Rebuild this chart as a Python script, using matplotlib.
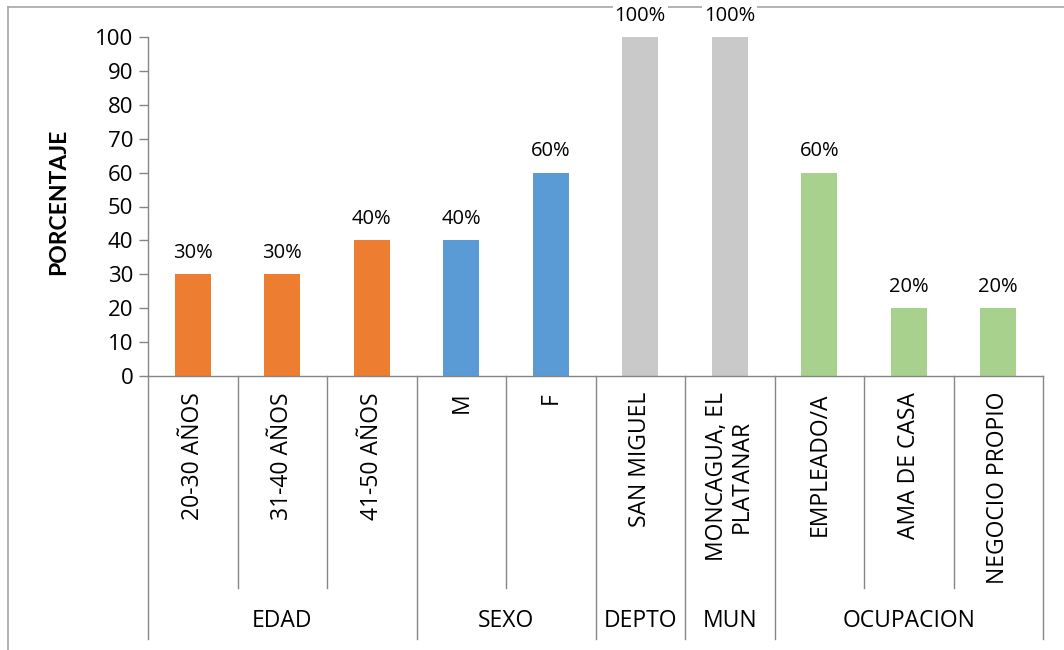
import matplotlib
matplotlib.use("Agg")
import matplotlib.pyplot as plt
from matplotlib.lines import Line2D
import matplotlib.transforms as mtrans

plt.rcParams['font.family'] = ['Open Sans', 'DejaVu Sans']

categories = ["20-30 AÑOS", "31-40 AÑOS", "41-50 AÑOS", "M", "F",
              "SAN MIGUEL", "MONCAGUA, EL\nPLATANAR", "EMPLEADO/A",
              "AMA DE CASA", "NEGOCIO PROPIO"]
values = [30, 30, 40, 40, 60, 100, 100, 60, 20, 20]
groups = ["EDAD", "SEXO", "DEPTO", "MUN", "OCUPACION"]
group_sizes = [3, 2, 1, 1, 3]
group_colors = ["#ED7D31", "#5B9BD5", "#C9C9C9", "#C9C9C9", "#A9D18E"]
yticks = [0, 10, 20, 30, 40, 50, 60, 70, 80, 90, 100]

colors = []
for c, n in zip(group_colors, group_sizes):
    colors += [c] * n

W, H = 1064, 650
fig = plt.figure(figsize=(W / 100, H / 100), dpi=100)
ax = fig.add_axes([148 / W, 1 - 376 / H, (1043 - 148) / W, (376 - 37) / H])

x = list(range(len(categories)))
ax.bar(x, values, width=0.4, color=colors, zorder=2)
ax.set_xlim(-0.5, len(categories) - 0.5)
ax.set_ylim(0, 100)
ax.set_yticks(yticks)
ax.tick_params(axis='y', labelsize=16, length=6.5, width=1, color='#868686', pad=4)
ax.set_xticks([])
for s in ['top', 'right']:
    ax.spines[s].set_visible(False)
for s in ['left', 'bottom']:
    ax.spines[s].set_color('#868686')
    ax.spines[s].set_linewidth(1)

fig.text(59 / W, 1 - 202 / H, "PORCENTAJE", rotation=90, ha='center', va='center',
         fontsize=16.5, fontweight='bold', family=['Lato', 'DejaVu Sans'])

for xi, v in zip(x, values):
    ax.annotate(f"{v}%", (xi, v), xytext=(0, 8), textcoords='offset points',
                ha='center', va='bottom', fontsize=14.5,
                bbox=dict(facecolor='white', edgecolor='none', pad=1.5), zorder=5,
                annotation_clip=False)

trans = mtrans.blended_transform_factory(ax.transData, fig.transFigure)
y_axis = 1 - 376 / H
y_inner = 1 - 588 / H
y_outer = 1 - 639 / H
for xi, lab in zip(x, categories):
    ax.text(xi, 1 - 392 / H, lab, transform=trans, rotation=90, ha='center', va='top',
            fontsize=16.5, multialignment='center', linespacing=1.05)

boundaries = [0]
for n in group_sizes:
    boundaries.append(boundaries[-1] + n)
group_edges = set(boundaries)
for b in range(len(categories) + 1):
    bottom = y_outer if b in group_edges else y_inner
    ax.add_line(Line2D([b - 0.5, b - 0.5], [y_axis, bottom], transform=trans,
                       color='#868686', linewidth=1, clip_on=False))

for i, g in enumerate(groups):
    center = (boundaries[i] + boundaries[i + 1]) / 2 - 0.5
    ax.text(center, 1 - 621 / H, g, transform=trans, ha='center', va='center',
            fontsize=16.5)

fig.add_artist(Line2D([8 / W, 8 / W], [1 - 7 / H, 0], transform=fig.transFigure,
                      color='#A6A6A6', linewidth=1.2, zorder=0))
fig.add_artist(Line2D([8 / W, 1], [1 - 7 / H, 1 - 7 / H], transform=fig.transFigure,
                      color='#A6A6A6', linewidth=1.2, zorder=0))

fig.savefig("out.png", dpi=100)
